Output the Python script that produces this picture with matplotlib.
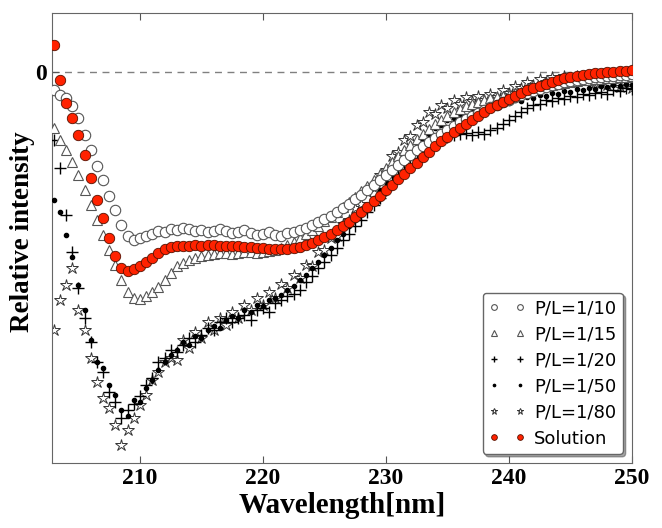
import matplotlib
matplotlib.use('Agg')
import matplotlib.pyplot as plt
import numpy as np

# wavelength grid (nm), 0.5 nm step
wl = np.arange(203.0, 250.25, 0.5)

# relative intensity (arbitrary units, 0 = dashed line)
pl_10 = [-18, -23, -26, -34, -46, -63, -78, -94, -108, -124,
         -138, -153, -164, -168, -166, -164, -162, -159, -160, -157,
         -158, -156, -157, -159, -158, -160, -159, -157, -159, -161,
         -160, -158, -161, -163, -162, -160, -163, -164, -161, -160,
         -158, -156, -153, -150, -147, -144, -140, -136, -132, -127,
         -123, -118, -113, -108, -103, -98, -93, -88, -83, -78,
         -74, -70, -66, -62, -58, -54, -50, -47, -44, -41,
         -38, -35, -33, -30, -28, -25, -23, -21, -19, -17,
         -15, -13, -12, -10, -9, -8, -7, -6, -5, -5,
         -4, -4, -3, -3, -2]
pl_15 = [-56, -68, -78, -90, -103, -118, -133, -148, -163, -178,
         -193, -208, -220, -226, -227, -224, -220, -215, -208, -201,
         -194, -191, -188, -186, -184, -183, -182, -181, -181, -182,
         -181, -180, -180, -181, -180, -179, -178, -176, -173, -170,
         -166, -162, -158, -154, -149, -145, -140, -135, -130, -125,
         -119, -114, -108, -102, -96, -90, -84, -78, -73, -67,
         -62, -57, -52, -48, -44, -40, -37, -34, -32, -30,
         -28, -26, -25, -24, -23, -21, -20, -18, -17, -15,
         -14, -13, -12, -11, -10, -9, -8, -8, -7, -7,
         -6, -6, -5, -5, -4]
pl_20 = [-68, -96, -143, -180, -216, -246, -270, -290, -300, -320,
         -330, -346, -338, -332, -324, -313, -306, -290, -286, -278,
         -280, -273, -266, -270, -263, -256, -258, -250, -246, -250,
         -246, -243, -248, -238, -236, -240, -231, -228, -224, -222,
         -218, -210, -204, -196, -190, -183, -176, -168, -162, -154,
         -148, -140, -133, -126, -118, -111, -104, -98, -92, -86,
         -80, -76, -71, -68, -65, -63, -62, -61, -63, -60,
         -62, -58, -56, -52, -48, -44, -40, -36, -33, -32,
         -28, -29, -26, -27, -24, -25, -22, -23, -21, -20,
         -22, -18, -19, -16, -17]
pl_50 = [-128, -140, -163, -185, -213, -238, -268, -290, -296, -313,
         -323, -338, -344, -328, -330, -316, -308, -298, -290, -283,
         -278, -270, -273, -264, -266, -258, -254, -256, -248, -244,
         -246, -238, -240, -233, -234, -228, -226, -223, -218, -214,
         -208, -203, -196, -190, -183, -176, -168, -162, -154, -148,
         -140, -133, -126, -118, -110, -103, -96, -88, -81, -74,
         -68, -62, -56, -53, -48, -46, -43, -44, -40, -41,
         -38, -36, -35, -32, -31, -28, -29, -25, -26, -23,
         -24, -21, -22, -19, -20, -17, -18, -16, -17, -14,
         -15, -13, -14, -12, -13]
pl_80 = [-258, -228, -213, -196, -238, -258, -286, -310, -326, -336,
         -353, -373, -358, -346, -333, -323, -308, -300, -290, -286,
         -288, -268, -276, -260, -266, -250, -258, -246, -253, -240,
         -246, -233, -238, -226, -233, -220, -226, -212, -216, -203,
         -206, -193, -194, -180, -178, -166, -164, -152, -148, -136,
         -132, -120, -116, -103, -98, -84, -80, -68, -64, -53,
         -50, -40, -42, -33, -36, -28, -32, -25, -29, -24,
         -28, -22, -25, -18, -21, -14, -16, -10, -13, -7,
         -10, -5, -8, -4, -7, -4, -8, -6, -11, -8,
         -13, -10, -15, -12, -16]
solution = [27, -8, -31, -46, -63, -83, -106, -128, -146, -166,
            -184, -196, -199, -197, -194, -190, -186, -181, -177, -175,
            -174, -174, -174, -173, -174, -173, -173, -174, -174, -174,
            -174, -175, -175, -176, -176, -177, -177, -177, -177, -176,
            -175, -173, -171, -168, -165, -162, -158, -154, -150, -145,
            -140, -135, -129, -124, -118, -113, -107, -102, -96, -91,
            -85, -80, -74, -69, -65, -60, -56, -52, -48, -44,
            -40, -36, -33, -30, -27, -24, -21, -18, -16, -14,
            -12, -10, -8, -6, -5, -4, -3, -2, -1, -1,
            0, 0, 1, 1, 2]

fig = plt.figure(figsize=(6.62, 5.28), dpi=100)
ax = fig.add_axes([0.0785, 0.123, 0.876, 0.852])

ax.axhline(0, color='gray', ls='--', lw=1, dashes=(5, 4), zorder=1)

ax.plot(wl, pl_10, 'o', ms=7.5, mfc='white', mec='#555555', mew=0.8,
        label='P/L=1/10', zorder=5)
ax.plot(wl, pl_15, '^', ms=7.5, mfc='white', mec='#555555', mew=0.8,
        label='P/L=1/15', zorder=4)
ax.plot(wl, pl_20, '+', ms=8, mec='black', mew=1.0,
        label='P/L=1/20', zorder=3)
ax.plot(wl, pl_50, '.', ms=6, mfc='black', mec='black',
        label='P/L=1/50', zorder=3)
ax.plot(wl, pl_80, '*', ms=9, mfc='white', mec='#333333', mew=0.7,
        label='P/L=1/80', zorder=2)
ax.plot(wl, solution, 'o', ms=7.5, mfc='#ff2200', mec='#551100', mew=0.6,
        label='Solution', zorder=6)

ax.set_xlim(202.85, 250)
ax.set_ylim(-391, 59)
ax.set_xticks([210, 220, 230, 240, 250])
ax.set_yticks([0])
ax.tick_params(direction='in', top=True, right=True, length=5, color='#555555')
for lab in ax.get_xticklabels() + ax.get_yticklabels():
    lab.set_family('Liberation Serif')
    lab.set_fontweight('bold')
    lab.set_fontsize(17)
for s in ax.spines.values():
    s.set_color('#666666')

ax.set_xlabel('Wavelength[nm]', family='Liberation Serif', fontweight='bold',
              fontsize=21, labelpad=2)
ax.set_ylabel('Relative intensity', family='Liberation Serif', fontweight='bold',
              fontsize=19.5)
ax.yaxis.set_label_coords(-0.03, 0.515)

leg = ax.legend(loc='lower right', numpoints=2, markerscale=0.55, fontsize=13,
                shadow=True, fancybox=True, framealpha=1, borderpad=0.35,
                labelspacing=0.45, handletextpad=0.5, edgecolor='#666666')

fig.savefig('out.png', dpi=100)
